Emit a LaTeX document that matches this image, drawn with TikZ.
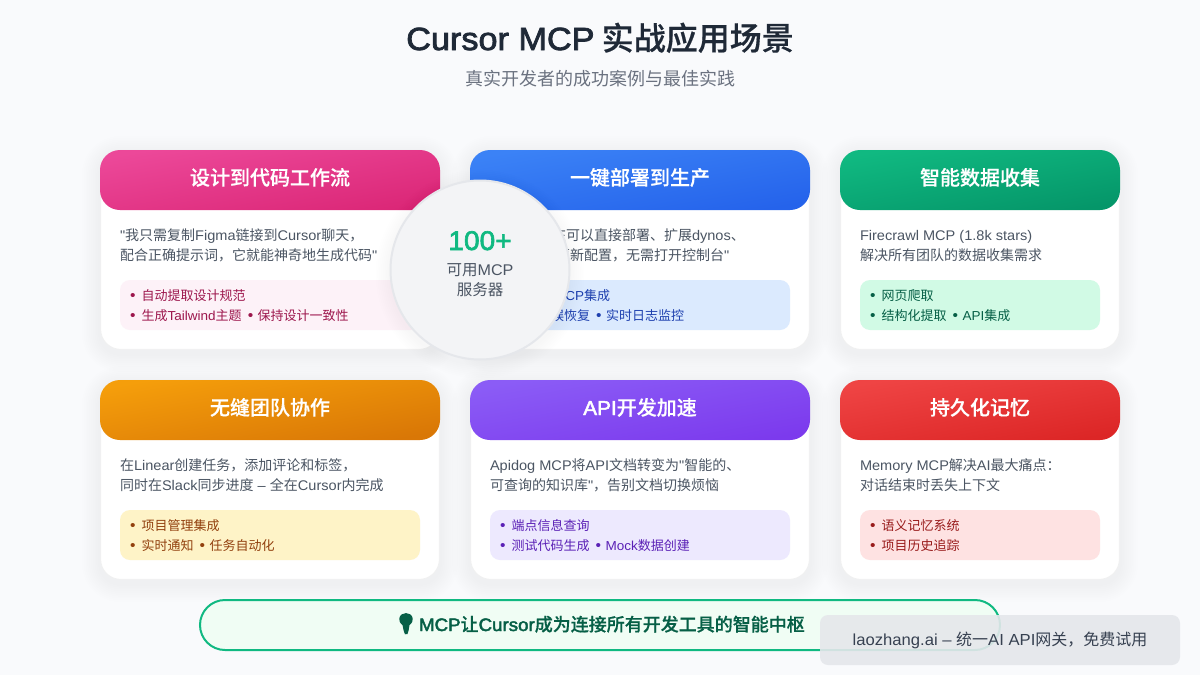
\documentclass[tikz,border=0pt]{standalone}
\usepackage{fontspec}
\setmainfont{Noto Sans CJK SC}
\newfontfamily\cjkm[FakeBold=0.5]{Noto Sans CJK SC Medium}
\newfontfamily\latf[FakeStretch=1.04]{Liberation Sans}
\newfontfamily\latm[FakeStretch=1.04,FakeBold=2.4]{Liberation Sans}
\newfontfamily\latt[FakeStretch=1.07,FakeBold=2.4]{Liberation Sans}
\newcommand{\lat}[1]{{\latf #1}}
\newcommand{\latb}[1]{{\latm #1}}
\newcommand{\dotmark}{{\fontsize{15}{15}\selectfont\raisebox{-.5pt}{\lat{•}}}}
\newcommand{\bul}{\makebox[11.5pt][l]{\dotmark}}
\newcommand{\ibul}{\hspace{6.2pt}\makebox[9.8pt][l]{\dotmark}}
\usetikzlibrary{shapes.geometric}
\definecolor{bgc}{HTML}{F9FAFC}
\definecolor{titlec}{HTML}{1F2937}
\definecolor{subc}{HTML}{6B7280}
\definecolor{descc}{HTML}{4B5563}
\definecolor{hubc}{HTML}{F3F4F6}
\definecolor{hubd}{HTML}{E5E7EB}
\definecolor{banf}{HTML}{F0FDF4}
\definecolor{wmt}{HTML}{374151}
\definecolor{pinkA}{HTML}{EC4899}\definecolor{pinkB}{HTML}{DB2777}\definecolor{pinkC}{HTML}{FDF2F8}\definecolor{pinkD}{HTML}{9D174D}
\definecolor{blueA}{HTML}{3B82F6}\definecolor{blueB}{HTML}{2563EB}\definecolor{blueC}{HTML}{DBEAFE}\definecolor{blueD}{HTML}{1E40AF}
\definecolor{greenA}{HTML}{10B981}\definecolor{greenB}{HTML}{059669}\definecolor{greenC}{HTML}{D1FAE5}\definecolor{greenD}{HTML}{065F46}
\definecolor{orangeA}{HTML}{F59E0B}\definecolor{orangeB}{HTML}{D97706}\definecolor{orangeC}{HTML}{FEF3C7}\definecolor{orangeD}{HTML}{92400E}
\definecolor{purpleA}{HTML}{8B5CF6}\definecolor{purpleB}{HTML}{7C3AED}\definecolor{purpleC}{HTML}{EDE9FE}\definecolor{purpleD}{HTML}{5B21B6}
\definecolor{redA}{HTML}{EF4444}\definecolor{redB}{HTML}{DC2626}\definecolor{redC}{HTML}{FEE2E2}\definecolor{redD}{HTML}{991B1B}
\tikzset{
  txt/.style={inner sep=0pt,outer sep=0pt,anchor=base west,font=\fontsize{14}{14}\selectfont,text=descc},
  feat/.style={txt,font=\fontsize{13}{13}\selectfont},
  head/.style={inner sep=0pt,anchor=base,font=\fontsize{20}{20}\selectfont\cjkm,text=white},
  mid/.style={inner sep=0pt,anchor=base},
  box/.style={rounded corners=10pt,inner sep=0pt,outer sep=0pt},
}
% soft shadow round a rectangle
\newcommand{\softshadow}[5]{%
  \foreach \i in {1,...,10}{%
    \fill[black,opacity=0.0045,rounded corners=#5+\i*1.8pt]
      ({#1-\i*1.8},{#2-\i*1.8+4}) rectangle ({#3+\i*1.8},{#4+\i*1.8+4});
  }%
}
% #1 name #2 x #3 y #4 colour prefix #5 title #6 width
\newcommand{\mkcard}[6]{%
  \softshadow{#2}{#3}{#2+#6}{#3+200}{20}
  \node[box,rounded corners=20pt,fill=white,draw=black!6,line width=.6pt,minimum width={#6-1.5},minimum height=199pt,anchor=north west] (#1) at (#2+.75,#3+.25) {};
  \node[box,rounded corners=20pt,minimum width=#6,minimum height=60pt,anchor=north west,shading=axis,top color=#4A,bottom color=#4B,shading angle=10] (#1h) at (#2,#3) {};
  \node[box,fill=#4C,minimum width={#6-40},minimum height=50pt,anchor=north west] (#1b) at (#2+20,#3+130) {};
  \node[head] (#1t) at (#2+#6/2,#3+35) {#5};
}
\begin{document}
\begin{tikzpicture}[x=1pt,y=-1pt]
\useasboundingbox (0,0) rectangle (1200,675);
\fill[bgc] (0,0) rectangle (1200,675);
\node[mid,font=\fontsize{32}{32}\selectfont\cjkm,text=titlec] (title) at (600,50) {{\latt Cursor MCP} 实战应用场景};
\node[mid,font=\fontsize{18}{18}\selectfont,text=subc] (sub) at (600,85) {真实开发者的成功案例与最佳实践};

\mkcard{c1}{100}{150}{pink}{设计到代码工作流}{340}
\mkcard{c2}{470}{150}{blue}{一键部署到生产}{340}
\mkcard{c3}{840}{150}{green}{智能数据收集}{280}
\mkcard{c4}{100}{380}{orange}{无缝团队协作}{340}
\mkcard{c5}{470}{380}{purple}{\latb{API}开发加速}{340}
\mkcard{c6}{840}{380}{red}{持久化记忆}{280}

% card 1
\node[txt] (c1a) at (120,240) {\lat{"}我只需复制\lat{Figma}链接到\lat{Cursor}聊天，};
\node[txt] (c1d) at (120,260) {配合正确提示词，它就能神奇地生成代码\lat{"}};
\node[feat,text=pinkD] (c1e) at (130,300) {\bul 自动提取设计规范};
\node[feat,text=pinkD] (c1f) at (130,320) {\bul 生成\lat{Tailwind}主题\ibul 保持设计一致性};
% card 2
\node[txt] (c2a) at (552,240) {在可以直接部署、扩展\lat{dynos}、};
\node[txt] (c2d) at (556,260) {更新配置，无需打开控制台\lat{"}};
\node[feat,text=blueD] (c2e) at (554,300) {\lat{MCP}集成};
\node[feat,text=blueD] (c2f) at (551,320) {误恢复\ibul 实时日志监控};
% card 3
\node[txt] (c3a) at (860,240) {\lat{Firecrawl MCP (1.8k stars)}};
\node[txt] (c3d) at (860,260) {解决所有团队的数据收集需求};
\node[feat,text=greenD] (c3e) at (870,300) {\bul 网页爬取};
\node[feat,text=greenD] (c3f) at (870,320) {\bul 结构化提取\ibul \lat{API}集成};
% card 4
\node[txt] (c4a) at (120,470) {在\lat{Linear}创建任务，添加评论和标签，};
\node[txt] (c4d) at (120,490) {同时在\lat{Slack}同步进度\hspace{1pt} \lat{–} \hspace{1pt}全在\lat{Cursor}内完成};
\node[feat,text=orangeD] (c4e) at (130,530) {\bul 项目管理集成};
\node[feat,text=orangeD] (c4f) at (130,550) {\bul 实时通知\ibul 任务自动化};
% card 5
\node[txt] (c5a) at (490,470) {\lat{Apidog MCP}将\lat{API}文档转变为\lat{"}智能的、};
\node[txt] (c5d) at (490,490) {可查询的知识库\lat{"}，告别文档切换烦恼};
\node[feat,text=purpleD] (c5e) at (500,530) {\bul 端点信息查询};
\node[feat,text=purpleD] (c5f) at (500,550) {\bul 测试代码生成\ibul \lat{Mock}数据创建};
% card 6
\node[txt] (c6a) at (860,470) {\lat{Memory MCP}解决\lat{AI}最大痛点：};
\node[txt] (c6d) at (860,490) {对话结束时丢失上下文};
\node[feat,text=redD] (c6e) at (870,530) {\bul 语义记忆系统};
\node[feat,text=redD] (c6f) at (870,550) {\bul 项目历史追踪};

% central circle
\foreach \i in {1,...,8}{\fill[black,opacity=0.005] (480,274) circle ({90+\i*1.8});}
\node[circle,fill=hubc,draw=hubd,line width=2pt,minimum size=179pt,inner sep=0pt] (hub) at (480,270) {};
\node[mid,font=\fontsize{27}{27}\selectfont,text=greenA] (hubn) at (480,250) {\latb{100+}};
\node[mid,font=\fontsize{15.5}{15.5}\selectfont,text=descc] (hubl) at (480,275) {可用\lat{MCP}};
\node[mid,font=\fontsize{15.5}{15.5}\selectfont,text=descc] (hubm) at (480,295) {服务器};

% bottom banner
\node[box,rounded corners=25pt,fill=banf,draw=greenA,line width=2pt,minimum width=800pt,minimum height=50pt] (banner) at (600,625) {};
\fill[greenD] (402.5,625) .. controls (399.5,622.5) and (399,620.5) .. (399.3,618.5)
  .. controls (399.8,615) and (402.8,613) .. (406,613)
  .. controls (409.2,613) and (412.2,615) .. (412.7,618.5)
  .. controls (413,620.5) and (412.5,622.5) .. (409.5,625)
  -- (408.6,630.5) -- (407.5,634) -- (405,634.3) -- (403.6,630.5) -- cycle;
\node[txt,font=\fontsize{18}{18}\selectfont\cjkm,text=greenD] (bannert) at (419,631) {\latb{MCP}让\latb{Cursor}成为连接所有开发工具的智能中枢};

% watermark
\node[box,rounded corners=8pt,fill=hubd,fill opacity=.9,minimum width=360pt,minimum height=50pt,anchor=north west] (wm) at (820,615) {};
\node[mid,font=\fontsize{16}{16}\selectfont,text=wmt] (wmtx) at (1000,645.5) {\lat{laozhang.ai – }统一\lat{AI API}网关，免费试用};
\end{tikzpicture}
\end{document}
